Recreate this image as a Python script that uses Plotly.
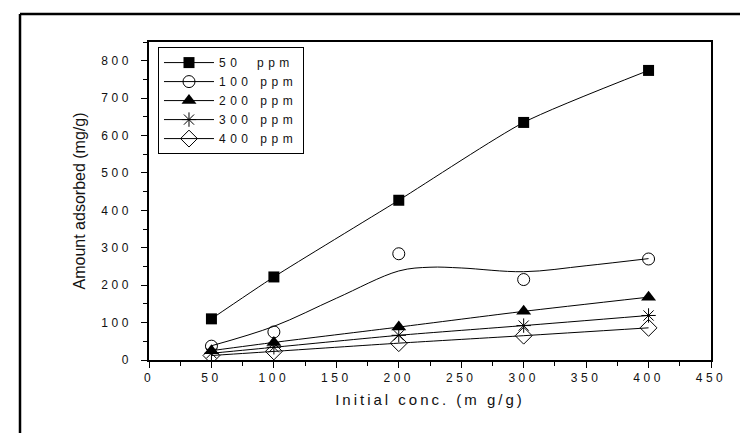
import plotly.graph_objects as go

# ---- data ----
conc = [50, 100, 200, 300, 400]
series_names = ["50  ppm", "100 ppm", "200 ppm", "300 ppm", "400 ppm"]
ppm50 = [110, 222, 427, 635, 774]
ppm100 = [37, 75, 284, 215, 270]
ppm200 = [25, 47, 88, 130, 168]
ppm300 = [18, 34, 66, 92, 119]
ppm400 = [12, 23, 45, 65, 86]

# smooth fitted curve drawn for the 100 ppm series
fit100_x = [50, 100, 150, 200, 225, 250, 300, 350, 400]
fit100_y = [38, 90, 165, 238, 248, 246, 236, 252, 271]

x_ticks = [0, 50, 100, 150, 200, 250, 300, 350, 400, 450]
y_ticks = [0, 100, 200, 300, 400, 500, 600, 700, 800]

FONT = "Liberation Sans, Arial, sans-serif"
TXT = "#111"

fig = go.Figure()

fig.add_trace(go.Scatter(
    x=conc, y=ppm50, name=series_names[0], mode="lines+markers",
    line=dict(color="black", width=1, shape="spline", smoothing=0.6),
    marker=dict(symbol="square", size=11, color="black"),
))

# 100 ppm fit curve (no legend entry)
fig.add_trace(go.Scatter(
    x=fit100_x, y=fit100_y, mode="lines", showlegend=False,
    line=dict(color="black", width=1, shape="spline", smoothing=1.0),
    hoverinfo="skip",
))
# 100 ppm points: gaps so no segments join them; legend still shows line+marker
gx, gy = [], []
for a, b in zip(conc, ppm100):
    gx += [a, None]
    gy += [b, None]
fig.add_trace(go.Scatter(
    x=gx, y=gy, name=series_names[1], mode="lines+markers", connectgaps=False,
    line=dict(color="black", width=1),
    marker=dict(symbol="circle-open", size=12, color="black", line=dict(width=1)),
))

fig.add_trace(go.Scatter(
    x=conc, y=ppm200, name=series_names[2], mode="lines+markers",
    line=dict(color="black", width=1, shape="spline", smoothing=0.6),
    marker=dict(symbol="triangle-up", size=13, color="black"),
))
fig.add_trace(go.Scatter(
    x=conc, y=ppm300, name=series_names[3], mode="lines+markers",
    line=dict(color="black", width=1, shape="spline", smoothing=0.6),
    marker=dict(symbol="asterisk-open", size=12, color="black", line=dict(width=1, color="black")),
))
fig.add_trace(go.Scatter(
    x=conc, y=ppm400, name=series_names[4], mode="lines+markers",
    line=dict(color="black", width=1, shape="spline", smoothing=0.6),
    marker=dict(symbol="diamond-open", size=13, color="black", line=dict(width=1)),
))

axis_common = dict(
    showgrid=False, zeroline=False, showline=True, linecolor="black", linewidth=1.5,
    mirror=True, ticks="outside", ticklen=6, tickwidth=1, tickcolor="black",
    tickfont=dict(family=FONT, size=12, color=TXT),
)

fig.update_xaxes(
    range=[0, 450], tickvals=x_ticks,
    minor=dict(dtick=25, ticks="outside", ticklen=4, tickcolor="black", tickwidth=1),
    title=dict(text="Initial conc. (m g/g)", font=dict(family=FONT, size=15, color=TXT), standoff=10),
    **axis_common,
)
fig.update_yaxes(
    range=[0, 850], tickvals=y_ticks,
    minor=dict(dtick=50, ticks="outside", ticklen=4, tickcolor="black", tickwidth=1),
    ticklabelstandoff=7,
    title=dict(text="Amount adsorbed (mg/g)", font=dict(family=FONT, size=16, color=TXT), standoff=22),
    **axis_common,
)

fig.update_layout(
    width=748, height=433,
    margin=dict(l=141, r=45, t=34, b=81),
    paper_bgcolor="white", plot_bgcolor="white",
    font=dict(family=FONT, color=TXT),
    legend=dict(
        x=0.016, y=0.984, xanchor="left", yanchor="top",
        bordercolor="black", borderwidth=1, bgcolor="white",
        font=dict(family=FONT, size=12, color=TXT),
        itemwidth=50, tracegroupgap=0,
    ),
    showlegend=True,
    shapes=[
        dict(type="line", xref="paper", yref="paper",
             x0=(12 - 141) / 562, x1=(760 - 141) / 562,
             y0=(352 - 6) / 318, y1=(352 - 6) / 318,
             line=dict(color="black", width=2.5)),
        dict(type="line", xref="paper", yref="paper",
             x0=(12 - 141) / 562, x1=(12 - 141) / 562,
             y0=(352 - 6) / 318, y1=(352 - 445) / 318,
             line=dict(color="black", width=2.5)),
    ],
)

# wide letter tracking as in the original figure; re-measure legend afterwards
post = """
var s=document.createElement('style');
s.textContent='.xtick text, .ytick text {letter-spacing:3.5px;} .legendtext {letter-spacing:4.5px;} .xtitle {letter-spacing:3px;}';
document.head.appendChild(s);
var gd=document.getElementById('{plot_id}');
Plotly.relayout(gd, {'legend.font.size': 12.001});
"""

fig.write_html("out.html", post_script=post)
